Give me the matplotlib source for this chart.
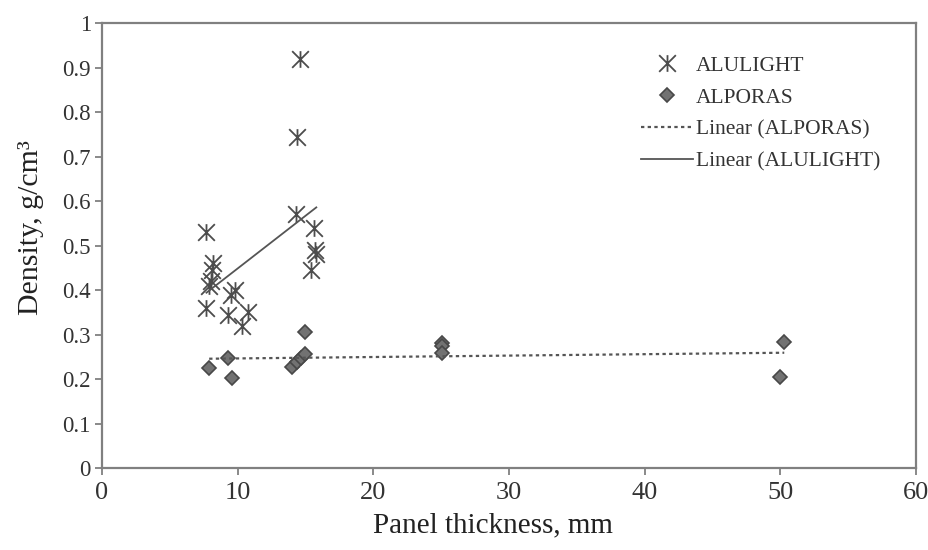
import numpy as np
import matplotlib
matplotlib.use("Agg")
import matplotlib.pyplot as plt
from matplotlib.path import Path
from matplotlib.ticker import FuncFormatter

# ALULIGHT panels
alulight_t = [7.7, 7.7, 7.9, 8.0, 8.1, 8.2, 9.3, 9.5, 9.8, 10.3, 10.8,
              14.3, 14.4, 14.6, 15.4, 15.6, 15.7, 15.8]
alulight_rho = [0.53, 0.36, 0.41, 0.42, 0.445, 0.46, 0.345, 0.39, 0.40, 0.32, 0.35,
                0.57, 0.745, 0.92, 0.445, 0.54, 0.49, 0.48]

# ALPORAS panels
alporas_t = [7.9, 9.3, 9.6, 14.0, 14.4, 14.7, 15.0, 15.0, 25.1, 25.1, 25.1, 50.0, 50.3]
alporas_rho = [0.224, 0.247, 0.202, 0.227, 0.238, 0.247, 0.256, 0.306,
               0.28, 0.275, 0.258, 0.205, 0.284]

plt.rcParams['font.family'] = ['Liberation Serif', 'DejaVu Serif']

# excel style star marker: an X with a vertical bar
star = Path([(-1, -1), (1, 1), (-1, 1), (1, -1), (0, -1), (0, 1)],
            [Path.MOVETO, Path.LINETO, Path.MOVETO, Path.LINETO, Path.MOVETO, Path.LINETO])

fig = plt.figure(figsize=(9.29, 5.50), dpi=100)
ax = fig.add_axes([0.1098, 0.149, 0.876, 0.809])

grey = '#555555'
ax.plot(alulight_t, alulight_rho, linestyle='none', marker=star,
        markersize=12, markeredgewidth=1.3, color='#4c4c4c', label='ALULIGHT')
ax.plot(alporas_t, alporas_rho, linestyle='none', marker='D',
        markersize=7.5, markerfacecolor='#727272', markeredgecolor='#484848',
        markeredgewidth=1.2, label='ALPORAS')

# linear trendlines over the data range (like Excel)
p_por = np.polyfit(alporas_t, alporas_rho, 1)
xp = np.array([min(alporas_t), max(alporas_t)])
ax.plot(xp, np.polyval(p_por, xp), linestyle=(0, (1.5, 1.5)), color=grey,
        linewidth=1.6, label='Linear (ALPORAS)')

p_alu = np.polyfit(alulight_t, alulight_rho, 1)
xa = np.array([min(alulight_t), max(alulight_t)])
ax.plot(xa, np.polyval(p_alu, xa), linestyle='-', color=grey,
        linewidth=1.3, label='Linear (ALULIGHT)')

ax.set_xlim(0, 60)
ax.set_ylim(0, 1)
ax.set_xticks(np.arange(0, 61, 10))
ax.set_yticks(np.arange(0, 1.01, 0.1))
ax.yaxis.set_major_formatter(FuncFormatter(lambda v, p: f'{v:g}' if abs(v) > 1e-9 else '0'))

for s in ax.spines.values():
    s.set_color('#808080')
    s.set_linewidth(1.6)
ax.tick_params(axis='both', direction='out', length=5, width=1.3, color='#808080')
ax.tick_params(axis='x', labelsize=19, pad=5, labelcolor='#333333')
ax.tick_params(axis='y', labelsize=16.5, pad=3, labelcolor='#333333')

ax.set_xlabel('Panel thickness, mm', fontsize=21, color='#222222')
ax.xaxis.set_label_coords(0.48, -0.100)
ax.xaxis.label.set_va('top')
ax.set_ylabel('Density, g/cm³', fontsize=21.5, color='#222222')
ax.yaxis.set_label_coords(-0.071, 0.54)

leg = ax.legend(loc='upper right', bbox_to_anchor=(0.98, 0.97), frameon=False,
                fontsize=15.5, handlelength=2.4, handletextpad=0.15, labelspacing=0.55,
                numpoints=1)
for t in leg.get_texts():
    t.set_color('#333333')

fig.savefig('out.png', dpi=100)
